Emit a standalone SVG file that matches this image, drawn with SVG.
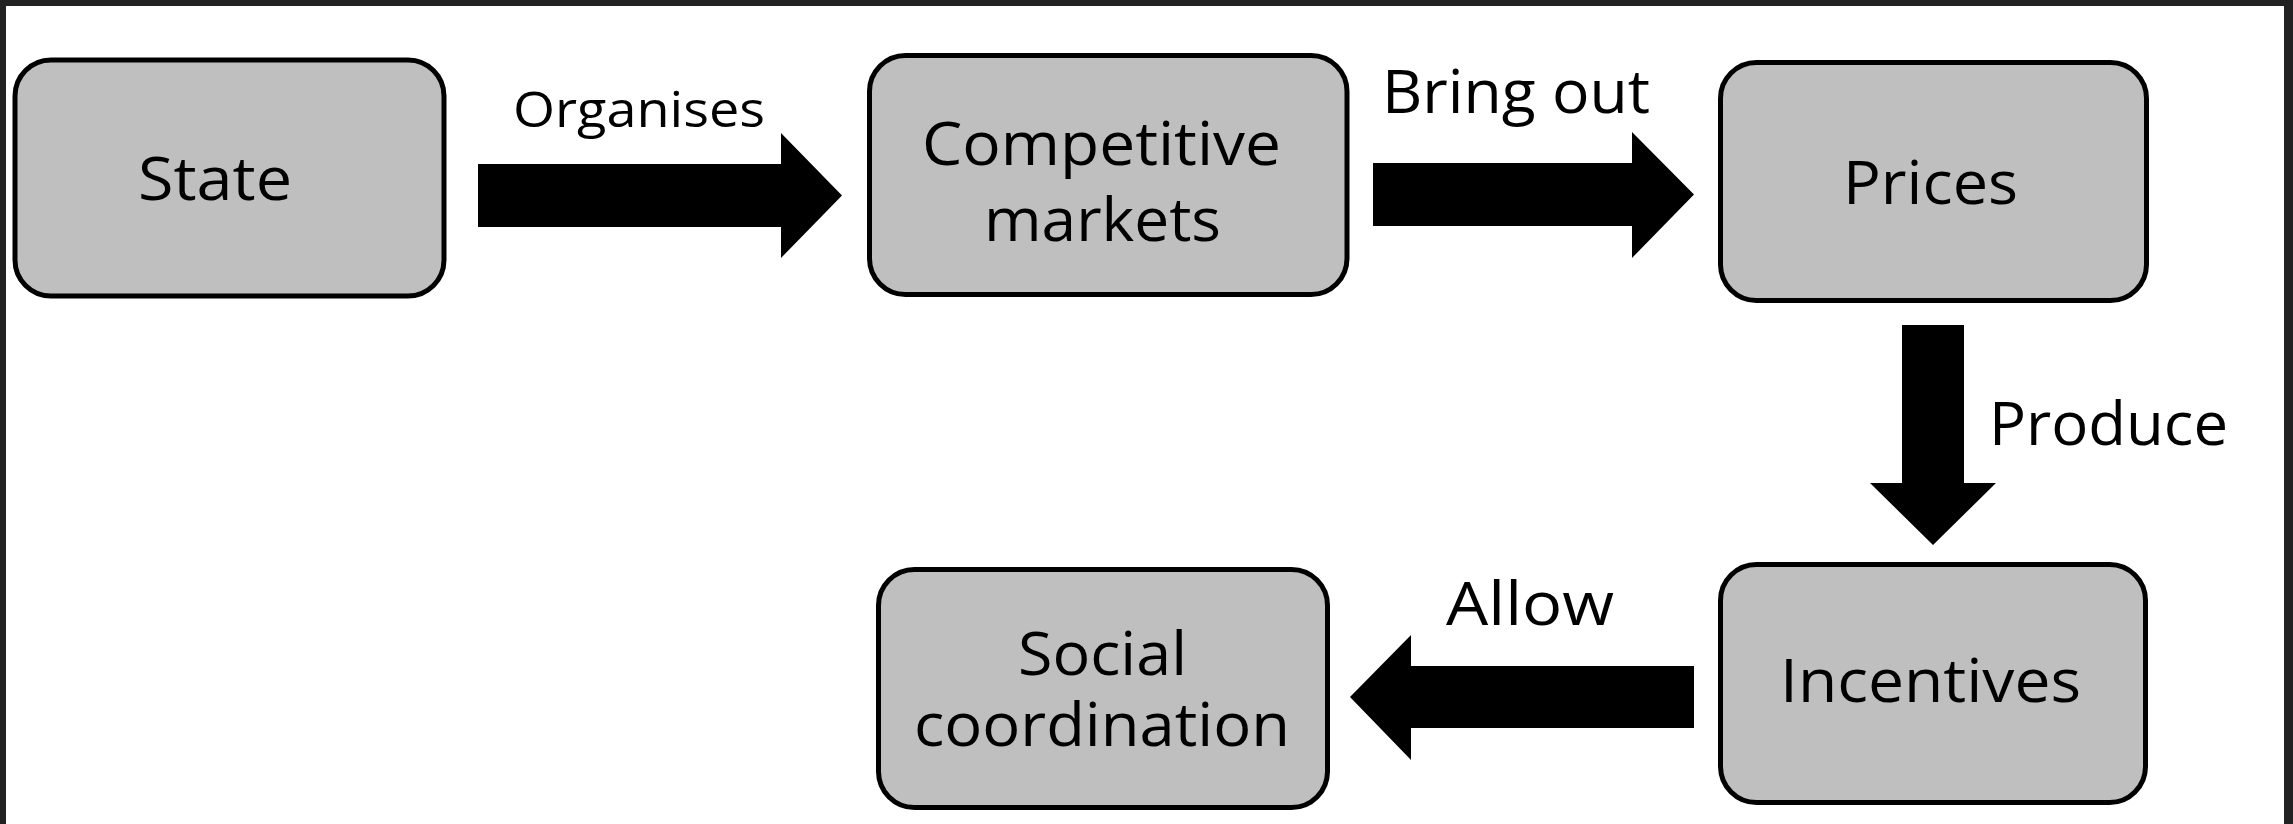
<svg xmlns="http://www.w3.org/2000/svg" width="2293" height="824" viewBox="0 0 2293 824">
  <style>
    .box { fill: #bfbfbf; stroke: #000; stroke-width: 5; }
    .lbl { font-family: "Open Sans", "Noto Sans", "Liberation Sans", sans-serif; font-size: 60px; fill: #000; }
    .small { font-size: 49px; }
    .arrow { fill: #000; }
  </style>
  <rect x="0" y="0" width="2293" height="824" fill="#ffffff"/>
  <g id="frame" fill="#222222">
    <rect x="0" y="0" width="2293" height="6"/>
    <rect x="0" y="0" width="6" height="824"/>
    <rect x="2284" y="0" width="9" height="824"/>
  </g>

  <g id="connectors">
    <g id="edge-organises">
      <polygon class="arrow" points="478,164 781,164 781,133 842,195.5 781,258 781,227 478,227"/>
      <text class="lbl small" x="513" y="127" textLength="252" lengthAdjust="spacingAndGlyphs">Organises</text>
    </g>
    <g id="edge-bringout">
      <polygon class="arrow" points="1373,163 1632,163 1632,132 1694,194.5 1632,258 1632,226 1373,226"/>
      <text class="lbl" x="1382" y="113" textLength="268" lengthAdjust="spacingAndGlyphs">Bring out</text>
    </g>
    <g id="edge-produce">
      <polygon class="arrow" points="1902,325 1964,325 1964,483 1996,483 1933,545 1870,483 1902,483"/>
      <text class="lbl" x="1989" y="445" textLength="239" lengthAdjust="spacingAndGlyphs">Produce</text>
    </g>
    <g id="edge-allow">
      <polygon class="arrow" points="1694,666 1411,666 1411,635 1350,697 1411,760 1411,728 1694,728"/>
      <text class="lbl" x="1446" y="625" textLength="168" lengthAdjust="spacingAndGlyphs">Allow</text>
    </g>
  </g>

  <g id="node-state">
    <rect class="box" x="15" y="60" width="429" height="236" rx="36" ry="36"/>
    <text class="lbl" x="138" y="200" textLength="154" lengthAdjust="spacingAndGlyphs">State</text>
  </g>
  <g id="node-competitive-markets">
    <rect class="box" x="869.5" y="55.5" width="477.5" height="239" rx="36" ry="36"/>
    <text class="lbl" x="922" y="165" textLength="359" lengthAdjust="spacingAndGlyphs">Competitive</text>
    <text class="lbl" x="984" y="241" textLength="237" lengthAdjust="spacingAndGlyphs">markets</text>
  </g>
  <g id="node-prices">
    <rect class="box" x="1720.5" y="62.5" width="426" height="238" rx="36" ry="36"/>
    <text class="lbl" x="1843" y="204" textLength="175" lengthAdjust="spacingAndGlyphs">Prices</text>
  </g>
  <g id="node-incentives">
    <rect class="box" x="1720.5" y="564.5" width="425" height="238" rx="36" ry="36"/>
    <text class="lbl" x="1780" y="702" textLength="301" lengthAdjust="spacingAndGlyphs">Incentives</text>
  </g>
  <g id="node-social-coordination">
    <rect class="box" x="878.5" y="569.5" width="449" height="238" rx="36" ry="36"/>
    <text class="lbl" x="1018" y="675" textLength="169" lengthAdjust="spacingAndGlyphs">Social</text>
    <text class="lbl" x="914" y="746" textLength="376" lengthAdjust="spacingAndGlyphs">coordination</text>
  </g>
</svg>
